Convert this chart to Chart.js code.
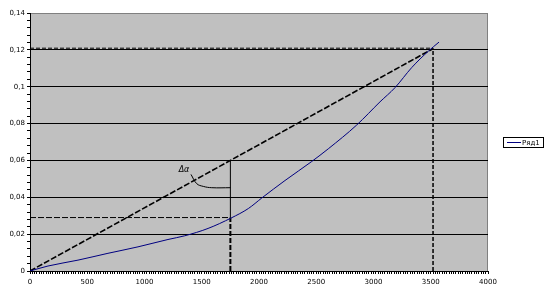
<!DOCTYPE html>
<html><head><meta charset="utf-8">
<script src="https://cdn.jsdelivr.net/npm/chart.js@4/dist/chart.umd.min.js"></script>
<style>html,body{margin:0;padding:0;background:#fff;}#wrap{width:547px;height:295px;position:relative;}</style>
</head><body><div id="wrap"><canvas id="c" width="547" height="295"></canvas></div>
<script>
// Blue curve "Ряд1"
const curveX = [0,157,419,681,943,1205,1351,1555,1758,1907,2024,2227,2460,2605,2853,3057,3188,3334,3479,3572];
const curveY = [0,0.0027,0.0059,0.0096,0.0131,0.0171,0.0191,0.0231,0.0288,0.0339,0.0396,0.0491,0.0594,0.0663,0.0792,0.0918,0.0995,0.1104,0.1193,0.1242];
// construction lines
const secantX = [0, 3515];
const secantY = [0, 0.1205];
const topHX = [0, 3520];
const topHY = [0.1209, 0.1209];
const topVX = [3520, 3520];
const topVY = [0, 0.1209];
const midHX = [0, 1750];
const midHY = [0.029, 0.029];
const midVlowX = [1750, 1750];
const midVlowY = [0, 0.029];
const midVupX = [1750, 1750];
const midVupY = [0.029, 0.06];
const arcX = [1406, 1456, 1514, 1587, 1750];
const arcY = [0.0524, 0.0474, 0.0459, 0.0452, 0.0452];
const angleLabel = "Δα";
const angleLabelPos = [1345, 0.0546];
const seriesName = "Ряд1";
const yMajorTicks = [0,0.02,0.04,0.06,0.08,0.1,0.12,0.14];
const xMajorTicks = [0,500,1000,1500,2000,2500,3000,3500,4000];

const pts = (xs, ys) => xs.map((x, i) => ({x, y: ys[i]}));
const isMajor = (v, step) => Math.abs(v / step - Math.round(v / step)) < 1e-6;
const FONT = "DejaVu Sans";

function lineDs(label, xs, ys, color, width, dash, tension, mono) {
  const d = {label, data: pts(xs, ys), showLine: true, borderColor: color, backgroundColor: color,
    borderWidth: width, borderDash: dash || [], pointRadius: 0, tension: tension || 0, fill: false};
  if (mono) d.cubicInterpolationMode = 'monotone';
  return d;
}

const bgPlugin = {
  id: 'bg',
  beforeDraw(chart) {
    const {ctx, chartArea: a} = chart;
    ctx.save();
    ctx.fillStyle = '#c0c0c0';
    ctx.fillRect(a.left, a.top, a.right - a.left, a.bottom - a.top);
    ctx.strokeStyle = '#808080';
    ctx.lineWidth = 1;
    ctx.beginPath();
    ctx.moveTo(a.left, a.top + 0.5); ctx.lineTo(a.right - 0.5, a.top + 0.5); ctx.lineTo(a.right - 0.5, a.bottom);
    ctx.stroke();
    ctx.restore();
  },
  afterDraw(chart) {
    const {ctx, scales} = chart;
    ctx.save();
    ctx.fillStyle = '#000';
    ctx.font = 'italic 8px ' + FONT;
    ctx.textAlign = 'center';
    ctx.textBaseline = 'middle';
    ctx.fillText(angleLabel, scales.x.getPixelForValue(angleLabelPos[0]), scales.y.getPixelForValue(angleLabelPos[1]));
    ctx.strokeStyle = '#000';
    ctx.lineWidth = 1;
    ctx.strokeRect(503.5, 137.5, 40, 10);
    ctx.strokeStyle = '#000080';
    ctx.beginPath(); ctx.moveTo(507, 142.5); ctx.lineTo(521, 142.5); ctx.stroke();
    ctx.fillStyle = '#000';
    ctx.font = '7px ' + FONT;
    ctx.textAlign = 'left';
    ctx.fillText(seriesName, 522, 143);
    ctx.restore();
  }
};

new Chart(document.getElementById('c'), {
  type: 'scatter',
  data: {
    datasets: [
      lineDs(seriesName, curveX, curveY, '#000080', 1, [], 0, true),
      lineDs('s', secantX, secantY, '#000', 1.6, [6, 2]),
      lineDs('h1', topHX, topHY, '#000', 1, [4, 2]),
      lineDs('v1', topVX, topVY, '#000', 1.5, [4, 2]),
      lineDs('h2', midHX, midHY, '#000', 1, [6, 2]),
      lineDs('v2', midVlowX, midVlowY, '#000', 2, [5, 2]),
      lineDs('v3', midVupX, midVupY, '#000', 1),
      lineDs('arc', arcX, arcY, '#000', 1, [], 0.4)
    ]
  },
  options: {
    responsive: false, animation: false,
    layout: {padding: {left: 0, top: 13, right: 59, bottom: 0}},
    plugins: {legend: {display: false}, tooltip: {enabled: false}},
    scales: {
      x: {
        type: 'linear', min: 0, max: 4000,
        afterFit(s) { s.height = 24; },
        border: {display: true, color: '#000', width: 1},
        grid: {drawOnChartArea: false, tickLength: 3, tickColor: '#000', color: '#000'},
        ticks: {stepSize: 20, autoSkip: false, maxRotation: 0, padding: 4, color: '#000',
          font: {family: FONT, size: 7},
          callback(v) { return xMajorTicks.includes(Math.round(v)) && isMajor(v, 500) ? String(Math.round(v)) : ''; }}
      },
      y: {
        type: 'linear', min: 0, max: 0.14,
        afterFit(s) { s.width = 30; },
        border: {display: true, color: '#000', width: 1},
        grid: {tickLength: 3, tickColor: '#000',
          color(c) { const v = c.tick ? c.tick.value : 0; if (!isMajor(v, 0.02)) return 'rgba(0,0,0,0)'; if (v > 0.139) return '#808080'; return '#000'; }},
        ticks: {stepSize: 0.004, autoSkip: false, padding: 2, color: '#000',
          font: {family: FONT, size: 7},
          callback(v) { if (!isMajor(v, 0.02)) return ''; const r = Math.round(v * 100) / 100; return yMajorTicks.some(t => Math.abs(t - r) < 1e-9) ? String(r).replace('.', ',') : ''; }}
      }
    }
  },
  plugins: [bgPlugin]
});
</script></body></html>
